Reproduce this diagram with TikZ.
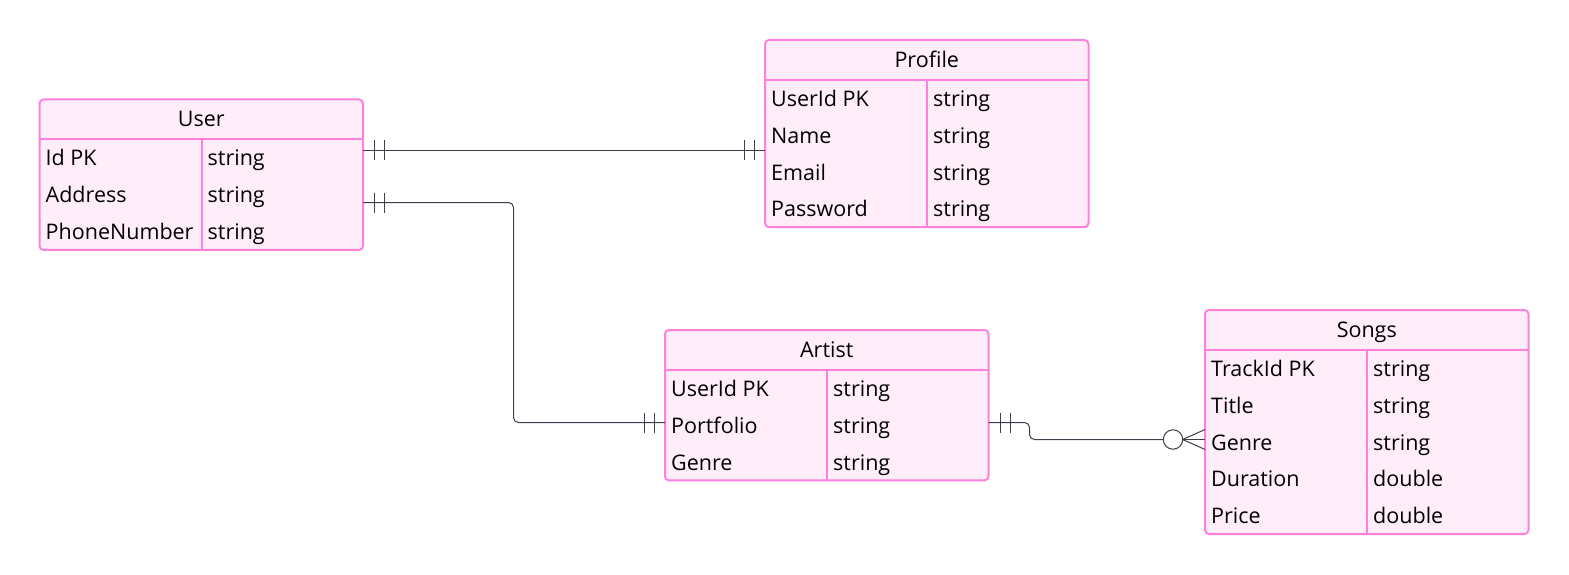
\documentclass[tikz,border=0pt]{standalone}
\usepackage{fontspec}
\setmainfont{Open Sans}
\usetikzlibrary{calc}
\definecolor{efill}{HTML}{FFEEFA}
\definecolor{edraw}{HTML}{FF80DF}
\definecolor{conn}{HTML}{3A3F4B}
\tikzset{
  entity/.style={draw=edraw, fill=efill, line width=2pt, rounded corners=4pt,
    inner sep=0pt, outer sep=0pt, anchor=north west, minimum width=323.5pt},
  sepline/.style={draw=edraw, line width=2pt},
  etitle/.style={font=\fontsize{21.5}{25}\selectfont, text=black, inner sep=0pt, anchor=base},
  cell/.style={font=\fontsize{21.5}{25}\selectfont, text=black, inner sep=0pt, anchor=base west},
  rel/.style={draw=conn, line width=1pt},
  bar/.style={draw=conn, line width=1pt},
}
\newcommand{\entityTable}[6]{%
  \node[entity, minimum height=40pt+#5*36.8pt] (#1) at (#2,#3) {};
  \draw[sepline] ($(#1.north west)+(0,40)$) -- ($(#1.north east)+(0,40)$);
  \draw[sepline] ($(#1.north west)+(162,40)$) -- ($(#1.south west)+(162,0)$);
  \node[etitle] (#1-title) at ($(#1.north)+(0,27.5)$) {#4};
  \foreach \kk/\vv [count=\ii] in {#6} {
    \pgfmathsetmacro\yy{40+(\ii-0.5)*36.8+8}
    \node[cell] (#1-k\ii) at ($(#1.north west)+(6,\yy)$) {\kk};
    \node[cell] (#1-v\ii) at ($(#1.north west)+(168,\yy)$) {\vv};
  }%
}
\begin{document}
\begin{tikzpicture}[x=1pt,y=-1pt]
\useasboundingbox (0,0) rectangle (1569,575);
\entityTable{user}{39.5}{99.5}{User}{3}{Id PK/string,Address/string,PhoneNumber/string}
\entityTable{profile}{765}{40}{Profile}{4}{UserId PK/string,Name/string,Email/string,Password/string}
\entityTable{artist}{665}{330}{Artist}{3}{UserId PK/string,Portfolio/string,Genre/string}
\entityTable{songs}{1205}{310}{Songs}{5}{TrackId PK/string,Title/string,Genre/string,Duration/double,Price/double}

% User -- Profile
\coordinate (up) at ($(user.north east)+(0,51)$);
\coordinate (pu) at ($(profile.north west)+(0,110.5)$);
\draw[rel] (up) -- (pu);
\draw[bar] ($(up)+(11.5,-10)$) -- ($(up)+(11.5,10)$);
\draw[bar] ($(up)+(21.5,-10)$) -- ($(up)+(21.5,10)$);
\draw[bar] ($(pu)+(-10.5,-10)$) -- ($(pu)+(-10.5,10)$);
\draw[bar] ($(pu)+(-20.5,-10)$) -- ($(pu)+(-20.5,10)$);

% User -- Artist
\coordinate (ua) at ($(user.north east)+(0,103)$);
\coordinate (au) at ($(artist.north west)+(0,92.5)$);
\draw[rel, rounded corners=5pt] (ua) -- ($(ua)+(150.5,0)$) |- (au);
\draw[bar] ($(ua)+(11.5,-10)$) -- ($(ua)+(11.5,10)$);
\draw[bar] ($(ua)+(21.5,-10)$) -- ($(ua)+(21.5,10)$);
\draw[bar] ($(au)+(-10.5,-10)$) -- ($(au)+(-10.5,10)$);
\draw[bar] ($(au)+(-20.5,-10)$) -- ($(au)+(-20.5,10)$);

% Artist -- Songs
\coordinate (as) at ($(artist.north east)+(0,92.5)$);
\coordinate (sa) at ($(songs.north west)+(0,129.5)$);
\coordinate (ring) at ($(sa)+(-32,0)$);
\draw[rel, rounded corners=5pt] (as) -- ($(as)+(41,0)$) |- ($(ring)+(-9.7,0)$);
\draw[bar] ($(as)+(12,-10)$) -- ($(as)+(12,10)$);
\draw[bar] ($(as)+(22,-10)$) -- ($(as)+(22,10)$);
\draw[rel, fill=white] (ring) circle[radius=9.7];
\draw[rel] ($(ring)+(9.7,0)$) -- ($(sa)+(0,-10)$);
\draw[rel] ($(ring)+(9.7,0)$) -- (sa);
\draw[rel] ($(ring)+(9.7,0)$) -- ($(sa)+(0,10)$);
\end{tikzpicture}
\end{document}
